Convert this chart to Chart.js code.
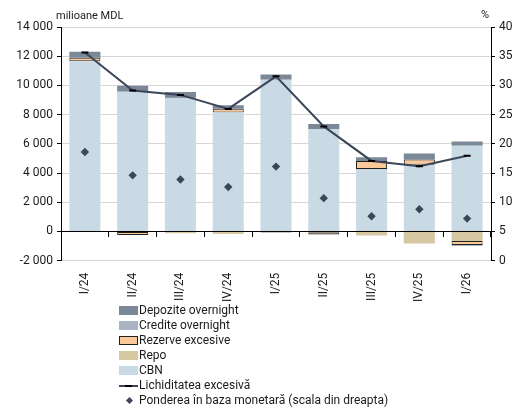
<!DOCTYPE html>
<html>
<head>
<meta charset="utf-8">
<script src="https://cdn.jsdelivr.net/npm/chart.js@4.4.1/dist/chart.umd.min.js"></script>
<style>
  html, body { margin: 0; padding: 0; background: #fff; }
  #wrap { position: relative; width: 519px; height: 407px; font-family: Roboto, "Noto Sans", sans-serif; }
  #box { position: absolute; left: 0; top: 0; width: 519px; height: 306px; }
  #legend { position: absolute; left: 119px; top: 303px; font-size: 12px; color: #1a1a1a; line-height: 15px; }
  .row { display: flex; align-items: center; height: 15px; white-space: nowrap; }
  .mk { width: 19px; height: 9px; box-sizing: border-box; margin-right: 1px; position: relative; }
</style>
</head>
<body>
<div id="wrap">
  <div id="box"><canvas id="c"></canvas></div>
  <div id="legend"></div>
</div>
<script>
const categories = ['I/24','II/24','III/24','IV/24','I/25','II/25','III/25','IV/25','I/26'];
const cbn        = [11650, 9560, 9160, 8140, 10380, 7010, 4280, 4560, 5870];
const repo       = [null, null, -130, -170, null, -60, -270, -830, -650];
const rezerve    = [250, -250, 50, 270, -80, -150, 550, 360, -280];
const credite    = [null, null, null, null, null, null, null, null, -60];
const depozite   = [410, 410, 340, 230, 370, 340, 250, 420, 290];
const lichiditate = [12250, 9650, 9350, 8390, 10620, 7195, 4830, 4460, 5180];
const ponderea   = [18.6, 14.6, 13.9, 12.6, 16.1, 10.7, 7.6, 8.8, 7.2];
const leftTicks  = [-2000, 0, 2000, 4000, 6000, 8000, 10000, 12000, 14000];
const rightTicks = [0, 5, 10, 15, 20, 25, 30, 35, 40];

const C = {
  dep: '#7b8898', cred: '#aab5c3', rez: '#fbc898', repo: '#d5c8a2', cbn: '#c9dae4',
  line: '#3c4659', dot: '#3c4659'
};

function fmt(v) {
  const s = String(Math.abs(v)).replace(/\B(?=(\d{3})+(?!\d))/g, ' ');
  return (v < 0 ? '-' : '') + s;
}

const FONT = { family: 'Roboto', size: 12 };
Chart.defaults.font.family = 'Roboto';
Chart.defaults.color = '#1a1a1a';

const titles = {
  id: 'titles',
  afterDraw(chart) {
    const ctx = chart.ctx, a = chart.chartArea;
    ctx.save();
    ctx.fillStyle = '#1a1a1a';
    ctx.font = '11px Roboto';
    ctx.textBaseline = 'alphabetic';
    ctx.textAlign = 'left';
    ctx.fillText('milioane MDL', a.left - 5, a.top - 8);
    ctx.textAlign = 'center';
    ctx.fillText('%', a.right - 6, a.top - 9);
    ctx.restore();
  }
};

const barBase = { type: 'bar', stack: 'main', order: 2, barPercentage: 0.65, categoryPercentage: 1, xAxisID: 'x', yAxisID: 'y' };

const chart = new Chart(document.getElementById('c'), {
  data: {
    labels: categories,
    datasets: [
      Object.assign({}, barBase, { label: 'CBN', data: cbn, backgroundColor: C.cbn }),
      Object.assign({}, barBase, { label: 'Repo', data: repo, backgroundColor: C.repo }),
      Object.assign({}, barBase, { label: 'Rezerve excesive', data: rezerve, backgroundColor: C.rez, borderColor: '#1f1f1f', borderWidth: 1, borderSkipped: false }),
      Object.assign({}, barBase, { label: 'Credite overnight', data: credite, backgroundColor: C.cred }),
      Object.assign({}, barBase, { label: 'Depozite overnight', data: depozite, backgroundColor: C.dep }),
      { type: 'line', label: 'Lichiditatea excesivă', data: lichiditate, stack: 'liq', order: 0, xAxisID: 'x', yAxisID: 'y',
        borderColor: C.line, borderWidth: 2, pointStyle: 'line', pointRadius: 3.5, pointBorderColor: '#000', pointBorderWidth: 2,
        pointBackgroundColor: '#000', tension: 0, fill: false },
      { type: 'line', label: 'Ponderea în baza monetară (scala din dreapta)', data: ponderea, stack: 'pond', order: 0, xAxisID: 'x', yAxisID: 'y2',
        showLine: false, pointStyle: 'rectRot', pointRadius: 4.2, pointBackgroundColor: C.dot, pointBorderColor: C.dot, pointBorderWidth: 0 }
    ]
  },
  options: {
    responsive: true, maintainAspectRatio: false, animation: false,
    layout: { padding: { top: 27, right: 0, left: 0, bottom: 0 } },
    plugins: { legend: { display: false }, tooltip: { enabled: false } },
    scales: {
      x: {
        type: 'category', stacked: true, position: 'bottom', offset: true,
        afterFit: s => { s.paddingLeft = 0; s.paddingRight = 0; },
        grid: { display: false }, border: { display: false },
        ticks: { font: FONT, color: '#1a1a1a', maxRotation: 90, minRotation: 90, padding: 4, autoSkip: false }
      },
      x2: {
        type: 'category', position: { y: 0 }, offset: true,
        afterFit: s => { s.paddingLeft = 0; s.paddingRight = 0; },
        grid: { offset: true, drawOnChartArea: false, drawTicks: true, tickLength: 5, color: '#000', tickColor: '#000' },
        border: { display: true, color: '#000', width: 1 },
        ticks: { display: false }
      },
      y: {
        stacked: true, position: 'left', min: -2000, max: 14000,
        afterFit: s => { s.width = 61; },
        afterBuildTicks: s => { s.ticks = leftTicks.map(v => ({ value: v })); },
        grid: { color: '#d6d6d6', tickColor: '#000', tickLength: 4, lineWidth: 1 },
        border: { display: true, color: '#000', width: 1 },
        ticks: { font: FONT, color: '#1a1a1a', padding: 4, callback: v => fmt(v) }
      },
      y2: {
        position: 'right', min: 0, max: 40,
        afterFit: s => { s.width = 28; },
        afterBuildTicks: s => { s.ticks = rightTicks.map(v => ({ value: v })); },
        grid: { drawOnChartArea: false, tickColor: '#000', tickLength: 4 },
        border: { display: true, color: '#000', width: 1 },
        ticks: { font: FONT, color: '#1a1a1a', padding: 4 }
      }
    }
  },
  plugins: [titles]
});

// HTML legend in the reference order
const legendOrder = ['Depozite overnight', 'Credite overnight', 'Rezerve excesive', 'Repo', 'CBN', 'Lichiditatea excesivă', 'Ponderea în baza monetară (scala din dreapta)'];
const leg = document.getElementById('legend');
legendOrder.forEach(name => {
  const ds = chart.data.datasets.find(d => d.label === name);
  const row = document.createElement('div'); row.className = 'row';
  const mk = document.createElement('span'); mk.className = 'mk';
  if (ds.type === 'bar') {
    mk.style.background = ds.backgroundColor;
    if (ds.borderWidth) mk.style.border = '1px solid ' + ds.borderColor;
  } else if (ds.showLine === false) {
    mk.innerHTML = '<span style="position:absolute;left:8px;top:1.5px;width:5px;height:5px;background:' + ds.pointBackgroundColor + ';transform:rotate(45deg)"></span>';
  } else {
    mk.innerHTML = '<span style="position:absolute;left:0;top:3.5px;width:19px;height:2px;background:' + ds.borderColor + '"></span>' +
                   '<span style="position:absolute;left:6px;top:3.5px;width:7px;height:2px;background:#000"></span>';
  }
  const t = document.createElement('span'); t.textContent = name;
  row.appendChild(mk); row.appendChild(t); leg.appendChild(row);
});
</script>
</body>
</html>
